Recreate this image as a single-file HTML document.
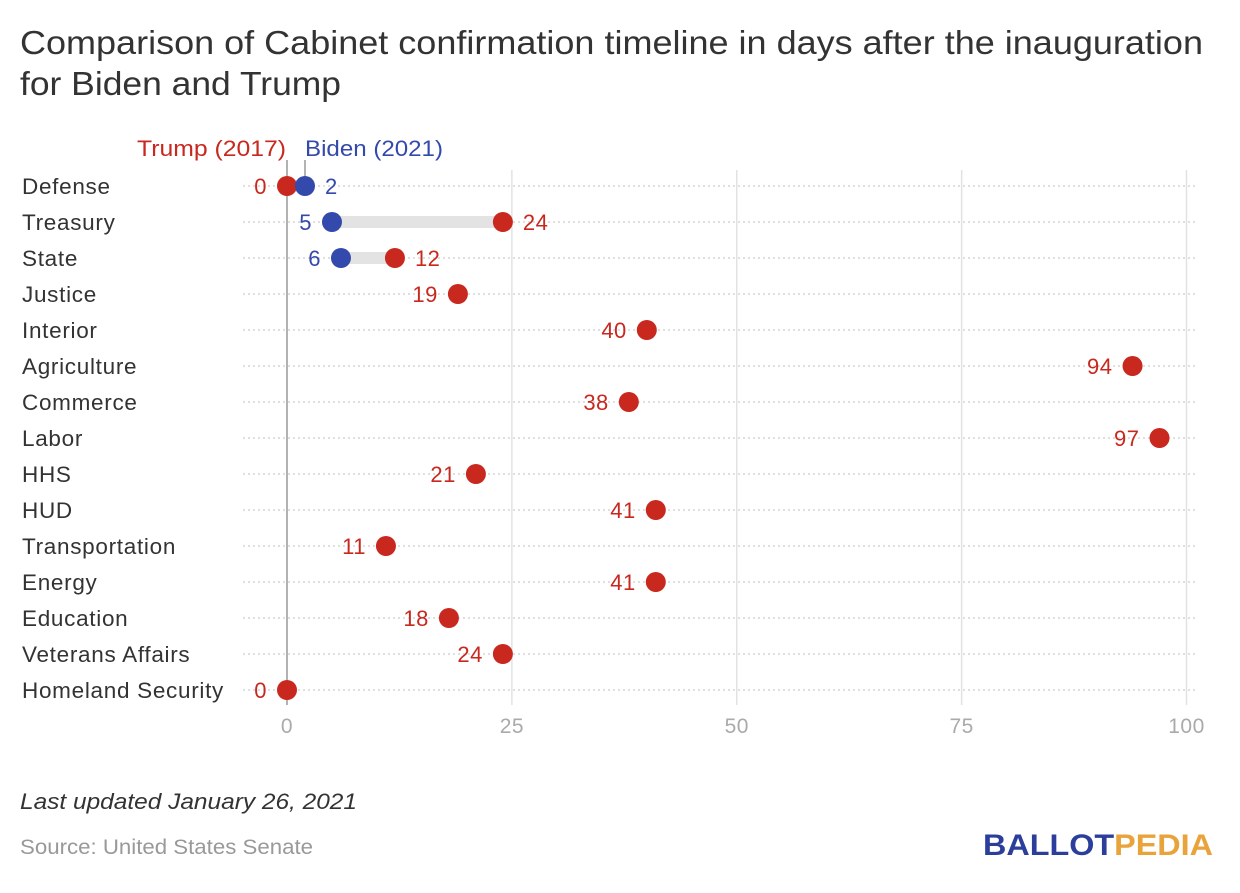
<!DOCTYPE html>
<html><head><meta charset="utf-8"><style>
body{margin:0;background:#fff;font-family:"Liberation Sans",sans-serif;}
svg text{font-family:"Liberation Sans",sans-serif;}
</style></head><body>
<svg id="c" width="1240" height="888" xmlns="http://www.w3.org/2000/svg">
<text x="20" y="54" font-size="33" fill="#333" textLength="1183" lengthAdjust="spacingAndGlyphs">Comparison of Cabinet confirmation timeline in days after the inauguration</text>
<text x="20" y="95" font-size="33" fill="#333" textLength="321" lengthAdjust="spacingAndGlyphs">for Biden and Trump</text>
<text x="20" y="809" font-size="22" font-style="italic" fill="#333" textLength="337" lengthAdjust="spacingAndGlyphs">Last updated January 26, 2021</text>
<text x="20" y="854" font-size="21" fill="#999" textLength="293" lengthAdjust="spacingAndGlyphs">Source: United States Senate</text>
<text x="983" y="855" font-size="30" font-weight="bold" fill="#2b3e9b" textLength="230" lengthAdjust="spacingAndGlyphs">BALLOT<tspan fill="#e8a33a">PEDIA</tspan></text>
<g id="plot"></g>
</svg>
<script>
const categories=["Defense","Treasury","State","Justice","Interior","Agriculture","Commerce","Labor","HHS","HUD","Transportation","Energy","Education","Veterans Affairs","Homeland Security"];
const trump=[0,24,12,19,40,94,38,97,21,41,11,41,18,24,0];
const biden=[2,5,6,null,null,null,null,null,null,null,null,null,null,null,null];
const ticks=[0,25,50,75,100];
const RED="#c8281e",BLUE="#3349ab";
const x=v=>287+v*8.995;
const y=i=>186+i*36;
const g=document.getElementById('plot');
const NS="http://www.w3.org/2000/svg";
function el(t,a,txt){const e=document.createElementNS(NS,t);for(const k in a)e.setAttribute(k,a[k]);if(txt!=null)e.textContent=txt;g.appendChild(e);return e;}
ticks.forEach(t=>{
 if(t>0){const l=el('line',{x1:x(t),x2:x(t),y1:170,y2:705,stroke:'#e2e2e2','stroke-width':1.5});
 
 }
 const tx=el('text',{x:x(t),y:733,'font-size':21,'letter-spacing':0.5,fill:'#aaa','text-anchor':'middle'},String(t));
 
 
});
categories.forEach((c,i)=>{
 const l=el('line',{x1:243,x2:1198,y1:y(i),y2:y(i),stroke:'#ccc','stroke-width':1.3,'stroke-dasharray':'2 3'});
 
 
 const t=el('text',{x:22,y:y(i)+8,'font-size':22.5,'letter-spacing':0.7,fill:'#333'},c);
 
 
});
const z=el('line',{x1:x(0),x2:x(0),y1:160,y2:705,stroke:'#999','stroke-width':1.5});


const bl=el('line',{x1:x(biden[0]),x2:x(biden[0]),y1:160,y2:180,stroke:'#999','stroke-width':1.5});


const lt=el('text',{x:137,y:156,'font-size':22,fill:RED,textLength:149,lengthAdjust:'spacingAndGlyphs'},'Trump (2017)');


const lb=el('text',{x:305,y:156,'font-size':22,fill:BLUE,textLength:138,lengthAdjust:'spacingAndGlyphs'},'Biden (2021)');


categories.forEach((c,i)=>{
 const b=biden[i],t=trump[i];
 if(b!=null){
  const r=el('line',{x1:x(b),x2:x(t),y1:y(i),y2:y(i),stroke:'#e3e3e3','stroke-width':12});
  
  
 }
 const tc=el('circle',{cx:x(t),cy:y(i),r:10,fill:RED});
 
 
 const trumpRight=b!=null&&t>b;
 const tl=el('text',{x:trumpRight?x(t)+20:x(t)-20,y:y(i)+8,'font-size':22,'letter-spacing':0.5,fill:RED,'text-anchor':trumpRight?'start':'end'},String(t));
 
 
 if(b!=null){
  const bc=el('circle',{cx:x(b),cy:y(i),r:10,fill:BLUE});
  
  
  const br=b>t;
  const btx=el('text',{x:br?x(b)+20:x(b)-20,y:y(i)+8,'font-size':22,'letter-spacing':0.5,fill:BLUE,'text-anchor':br?'start':'end'},String(b));
  
  
 }
});
</script>
</body></html>
